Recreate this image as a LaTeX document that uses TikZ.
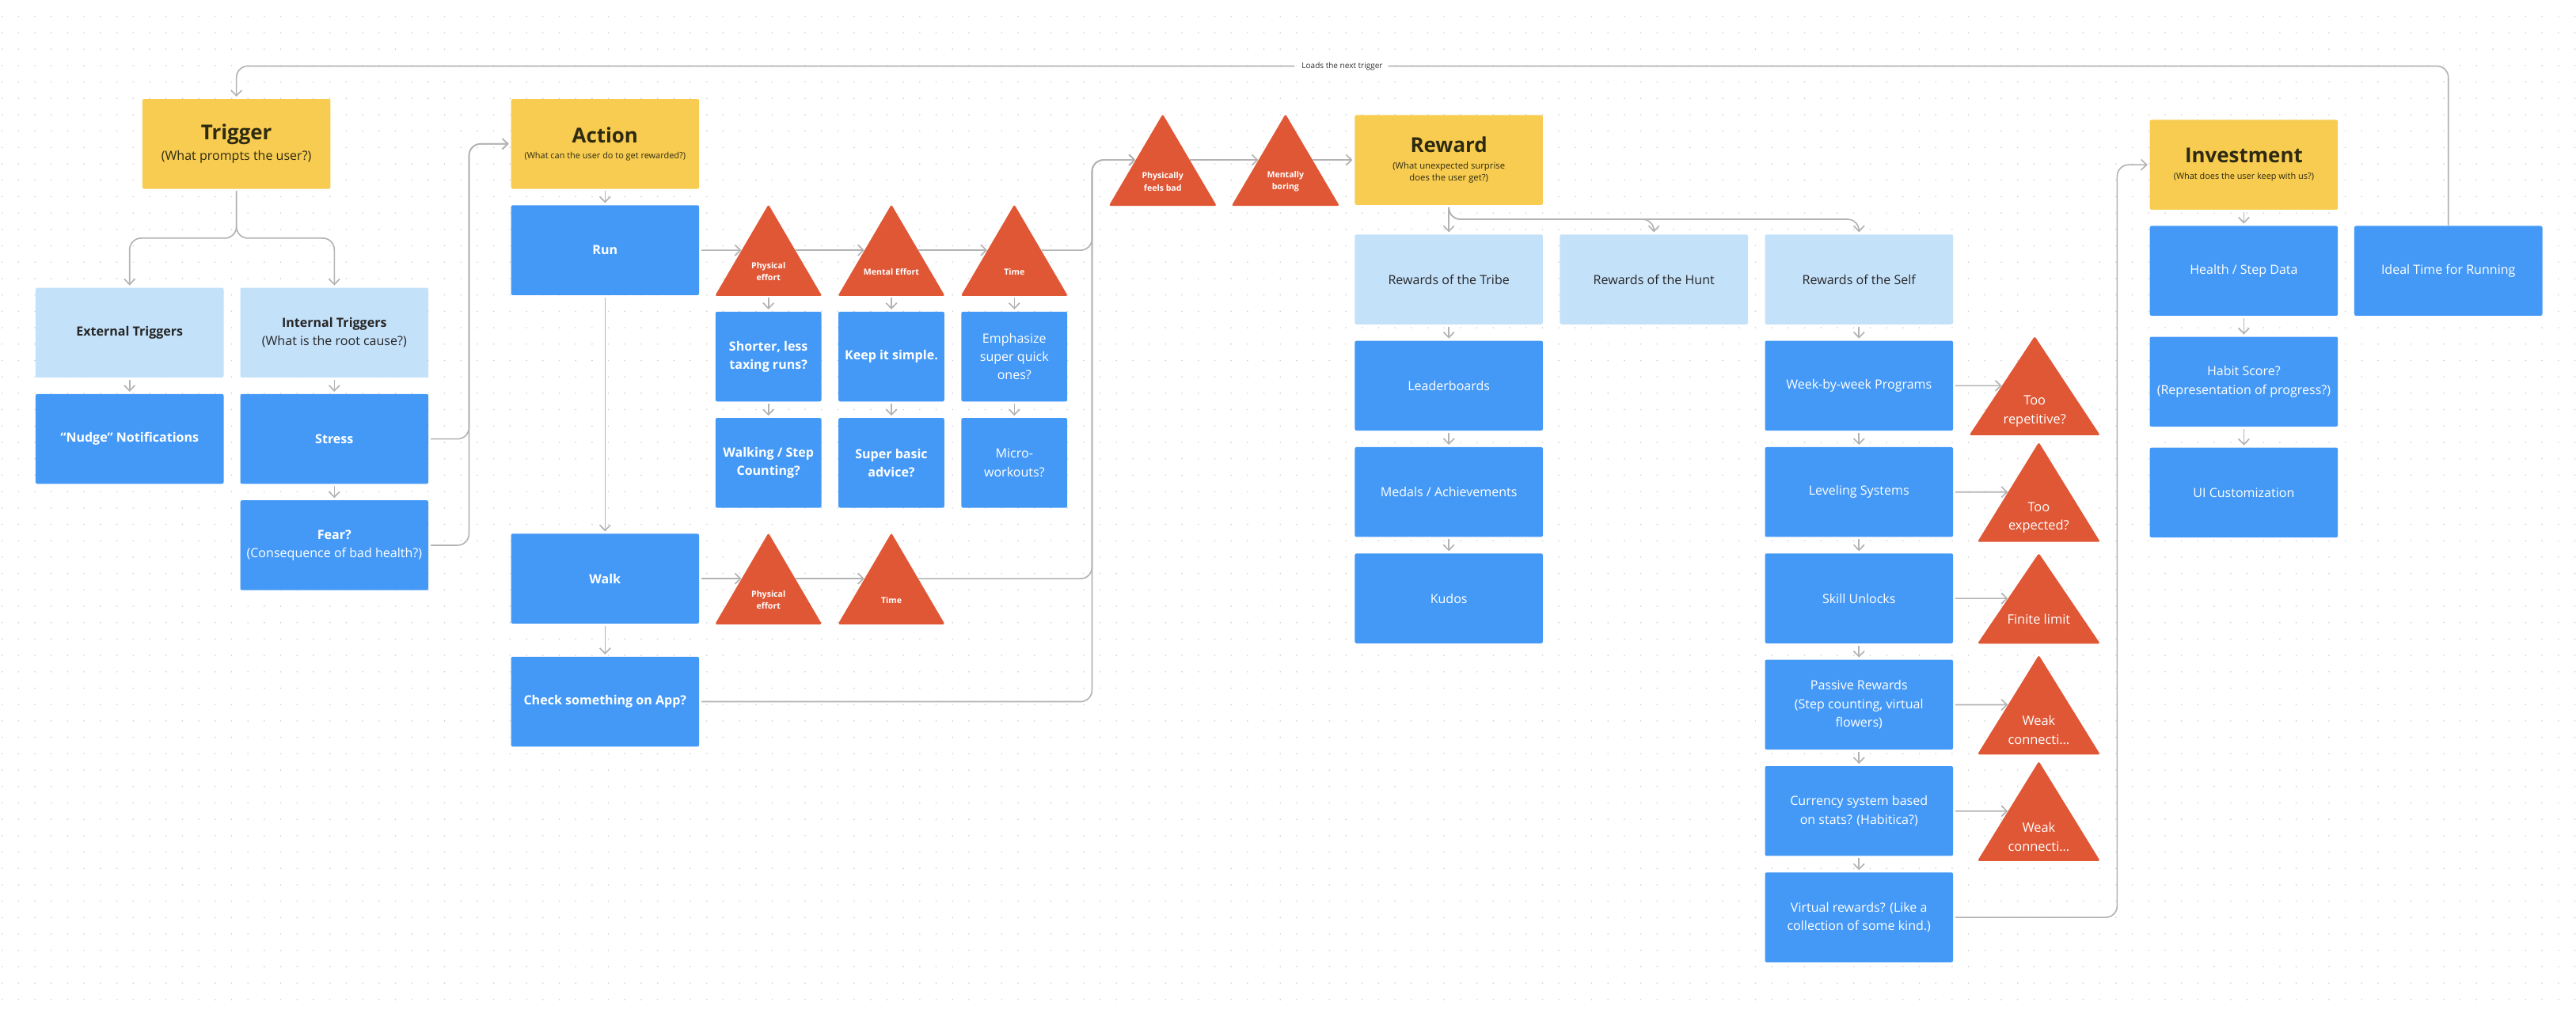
\documentclass[tikz,border=0pt]{standalone}
\usepackage{fontspec}
\setmainfont{Open Sans}
\usetikzlibrary{arrows.meta,backgrounds,calc,positioning}

\definecolor{stageyellow}{HTML}{F7CC50}
\definecolor{itemblue}{HTML}{4499F7}
\definecolor{catblue}{HTML}{C4E1FA}
\definecolor{warnred}{HTML}{E05735}
\definecolor{linkgray}{HTML}{B3B3B3}
\definecolor{dotgray}{HTML}{D2D2D2}
\definecolor{headtext}{HTML}{2E2A12}

\newcommand{\stagename}[1]{{\fontsize{7.1pt}{8.5pt}\selectfont\bfseries #1}}

\tikzset{%
	box/.style      = {rectangle, rounded corners=0.6pt, minimum width=2.29cm, minimum height=1.094cm, inner sep=1pt, align=center},
	stage/.style    = {box, fill=stageyellow, text=headtext},
	cat/.style      = {box, fill=catblue, text=black!85},
	item/.style     = {box, fill=itemblue, text=white},
	narrow/.style   = {minimum width=1.29cm},
	txt/.style      = {font=\fontsize{4.4pt}{6.4pt}\selectfont},
	btxt/.style     = {font=\fontsize{4.4pt}{6.4pt}\selectfont\bfseries},
	warn/.style     = {rectangle, inner sep=0pt, minimum width=1.29cm, minimum height=1.1cm},
	warntxt/.style  = {anchor=center, yshift=0.295cm, inner sep=0pt, text=white, align=center, font=\fontsize{2.9pt}{4.2pt}\selectfont\bfseries},
	warnbig/.style  = {warntxt, font=\fontsize{4.5pt}{6.5pt}\selectfont},
	link/.style     = {draw=linkgray, line width=0.45pt, rounded corners=0.14cm, -{Straight Barb[length=1.9pt,width=3.7pt]}, shorten <=0.6pt, shorten >=0.6pt},
	totri/.style    = {shorten >=-#1},
	fromtri/.style  = {shorten <=-#1},
}

\begin{document}
\begin{tikzpicture}[x=0.02cm, y=-0.02cm, node distance=1.295cm]
	\useasboundingbox (0,0) rectangle (1568,619);
	% dotted canvas
	\begin{scope}[on background layer]
		\fill[white] (0,0) rectangle (1568,619);
		\foreach \j in {1,...,61}
			\draw[dotgray, line width=0.5pt, line cap=round, dash pattern=on 0pt off 5.677pt] (1.3,\j*9.976) -- (1568,\j*9.976);
	\end{scope}

	\coordinate (tsplit) at (0,145);
	\coordinate (jn) at (285.5,0);
	\coordinate (bus) at (664.7,0);
	\coordinate (rsplit) at (0,133.5);
	\coordinate (bus2) at (1288.7,0);

	% Trigger
	\node[stage, txt] (trig) at (143.9,87.6) {\stagename{Trigger}\\[0.7pt](What prompts the user?)};
	\node[cat, btxt] (ext) at (78.9,202.5) {External Triggers};
	\node[cat, btxt] (intr) at (203.5,202.5) {Internal Triggers\\{\mdseries (What is the root cause?)}};
	\node[item, btxt, below of=ext] (nudge) {“Nudge” Notifications};
	\node[item, btxt, below of=intr] (stress) {Stress};
	\node[item, btxt, below of=stress] (fear) {Fear?\\{\mdseries (Consequence of bad health?)}};

	% Action
	\node[stage, font=\fontsize{3pt}{4pt}\selectfont] (act) at (368.3,87.6) {\stagename{Action}\\[1.5pt](What can the user do to get rewarded?)};
	\node[item, btxt, below of=act] (run) {Run};
	\node[item, btxt] (walk) at (368.3,352.3) {Walk};
	\node[item, btxt] (check) at (368.3,427.2) {Check something on App?};

	\node[warn, label={[warntxt]below:Physical\\effort}] (pe1) at (467.75,152.35) {};
	\node[warn, label={[warntxt]below:Mental Effort}, node distance=1.497cm, right of=pe1] (me1) {};
	\node[warn, label={[warntxt]below:Time}, node distance=1.497cm, right of=me1] (tm1) {};
	\node[item, btxt, narrow, below of=pe1] (short) {Shorter, less\\taxing runs?};
	\node[item, btxt, narrow, below of=me1] (simple) {Keep it simple.};
	\node[item, txt, narrow, below of=tm1] (quick) {Emphasize\\super quick\\ones?};
	\node[item, btxt, narrow, below of=short] (stepc) {Walking / Step\\Counting?};
	\node[item, btxt, narrow, below of=simple] (basic) {Super basic\\advice?};
	\node[item, txt, narrow, below of=quick] (micro) {Micro-\\workouts?};

	\node[warn, label={[warntxt]below:Physical\\effort}] (pe2) at (467.75,352.3) {};
	\node[warn, label={[warntxt]below:Time}, node distance=1.497cm, right of=pe2] (tm2) {};

	% Reward
	\node[warn, minimum width=1.3cm, minimum height=1.104cm, label={[warntxt]below:Physically\\feels bad}] (pfb) at (707.75,97.4) {};
	\node[warn, minimum width=1.3cm, minimum height=1.104cm, label={[warntxt]below:Mentally\\boring}, node distance=1.495cm, right of=pfb] (mb) {};
	\node[stage, font=\fontsize{3.1pt}{4.2pt}\selectfont] (rew) at (881.9,97.4) {\stagename{Reward}\\[1.5pt](What unexpected surprise\\does the user get?)};
	\node[cat, txt] (tribe) at (881.9,170.1) {Rewards of the Tribe};
	\node[cat, txt, node distance=2.497cm, right of=tribe] (hunt) {Rewards of the Hunt};
	\node[cat, txt, node distance=2.497cm, right of=hunt] (self) {Rewards of the Self};
	\node[item, txt, below of=tribe] (lead) {Leaderboards};
	\node[item, txt, below of=lead] (medal) {Medals / Achievements};
	\node[item, txt, below of=medal] (kudos) {Kudos};
	\node[item, txt, below of=self] (week) {Week-by-week Programs};
	\node[item, txt, below of=week] (level) {Leveling Systems};
	\node[item, txt, below of=level] (skill) {Skill Unlocks};
	\node[item, txt, below of=skill] (passive) {Passive Rewards\\(Step counting, virtual\\flowers)};
	\node[item, txt, below of=passive] (currency) {Currency system based\\on stats? (Habitica?)};
	\node[item, txt, below of=currency] (virtual) {Virtual rewards? (Like a\\collection of some kind.)};

	\node[warn, minimum width=1.58cm, minimum height=1.192cm, label={[warnbig]below:Too\\repetitive?}] (rep) at (1238.5,234.85) {};
	\node[warn, minimum width=1.48cm, minimum height=1.2cm, label={[warnbig]below:Too\\expected?}] (expd) at (1241,299.6) {};
	\node[warn, minimum width=1.48cm, minimum height=1.088cm, label={[warnbig]below:Finite limit}] (fin) at (1241,364.35) {};
	\node[warn, minimum width=1.48cm, minimum height=1.196cm, label={[warnbig]below:Weak\\connecti…}] (wk1) at (1241,429.1) {};
	\node[warn, minimum width=1.48cm, minimum height=1.2cm, label={[warnbig]below:Weak\\connecti…}] (wk2) at (1241,493.85) {};

	% Investment
	\node[stage, font=\fontsize{3pt}{4pt}\selectfont] (inv) at (1365.8,100.3) {\stagename{Investment}\\[1.7pt](What does the user keep with us?)};
	\node[item, txt] (health) at (1365.8,164.9) {Health / Step Data};
	\node[item, txt, node distance=1.35cm, below of=health] (habit) {Habit Score?\\(Representation of progress?)};
	\node[item, txt, node distance=1.35cm, below of=habit] (ui) {UI Customization};
	\node[item, txt, node distance=2.49cm, right of=health] (ideal) {Ideal Time for Running};

	\node[font=\fontsize{2.75pt}{3.3pt}\selectfont, text=black!80, fill=white, inner xsep=1.7pt, inner ysep=0.5pt] (loadlbl) at (817,40.2) {Loads the next trigger};

	% triangles
	\begin{scope}[on background layer]
		\foreach \t in {pe1,me1,tm1,pe2,tm2,pfb,mb,rep,expd,fin,wk1,wk2}
			\fill[warnred, rounded corners=0.7pt] (\t.south west) -- (\t.south east) -- (\t.north) -- cycle;
	\end{scope}

	% connectors
	\draw[link] (trig) -- (trig |- tsplit) -| (ext);
	\draw[link] (trig) -- (trig |- tsplit) -| (intr);
	\draw[link] (ext) -- (nudge);
	\draw[link] (intr) -- (stress);
	\draw[link] (stress) -- (fear);
	\draw[link] (stress) -| (jn |- act) -- (act);
	\draw[link] (fear) -| (jn |- act) -- (act);

	\draw[link] (act) -- (run);
	\draw[link] (run) -- (walk);
	\draw[link] (walk) -- (check);
	\draw[link, totri=0.3225cm] (run) -- (pe1);
	\draw[link, fromtri=0.3225cm, totri=0.3225cm] (pe1) -- (me1);
	\draw[link, fromtri=0.3225cm, totri=0.3225cm] (me1) -- (tm1);
	\draw[link, fromtri=0.3225cm, totri=0.325cm] (tm1) -- (bus |- tm1) -- (bus |- pfb) -- (pfb);
	\draw[link] (pe1) -- (short);
	\draw[link] (me1) -- (simple);
	\draw[link] (tm1) -- (quick);
	\draw[link] (short) -- (stepc);
	\draw[link] (simple) -- (basic);
	\draw[link] (quick) -- (micro);
	\draw[link, totri=0.3225cm] (walk) -- (pe2);
	\draw[link, fromtri=0.3225cm, totri=0.3225cm] (pe2) -- (tm2);
	\draw[link, fromtri=0.3225cm, totri=0.325cm] (tm2) -- (bus |- tm2) -- (bus |- pfb) -- (pfb);
	\draw[link, totri=0.325cm] (check) -- (bus |- check) -- (bus |- pfb) -- (pfb);
	\draw[link, fromtri=0.325cm, totri=0.325cm] (pfb) -- (mb);
	\draw[link, fromtri=0.325cm] (mb) -- (rew);

	\draw[link] (rew) -- (tribe);
	\draw[link] (rew) -- (rew |- rsplit) -| (hunt);
	\draw[link] (rew) -- (rew |- rsplit) -| (self);
	\draw[link] (tribe) -- (lead);
	\draw[link] (lead) -- (medal);
	\draw[link] (medal) -- (kudos);
	\draw[link] (self) -- (week);
	\draw[link] (week) -- (level);
	\draw[link] (level) -- (skill);
	\draw[link] (skill) -- (passive);
	\draw[link] (passive) -- (currency);
	\draw[link] (currency) -- (virtual);
	\draw[link, totri=0.395cm] (week) -- (rep);
	\draw[link, totri=0.37cm] (level) -- (expd);
	\draw[link, totri=0.37cm] (skill) -- (fin);
	\draw[link, totri=0.37cm] (passive) -- (wk1);
	\draw[link, totri=0.37cm] (currency) -- (wk2);
	\draw[link] (virtual) -| (bus2 |- inv) -- (inv);

	\draw[link] (inv) -- (health);
	\draw[link] (health) -- (habit);
	\draw[link] (habit) -- (ui);
	\draw[link] (ideal) |- (loadlbl) -| (trig);
\end{tikzpicture}
\end{document}
